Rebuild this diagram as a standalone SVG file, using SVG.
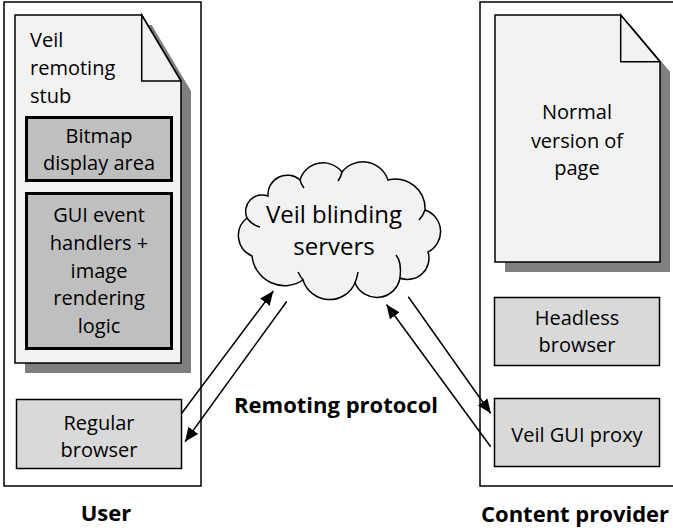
<svg xmlns="http://www.w3.org/2000/svg" width="673" height="531" viewBox="0 0 673 531">
<style>
text{font-family:"Open Sans","Liberation Sans",sans-serif;font-size:20px;fill:#000}
.c{text-anchor:middle}
.b{font-weight:bold;font-size:22px}
.big{font-size:24px}
.frame{fill:none;stroke:#000;stroke-width:1.5}
.doc{fill:#f2f2f2;stroke:#000;stroke-width:1.5;stroke-linejoin:miter}
.shadow{fill:#7f7f7f}
.box{fill:#d9d9d9;stroke:#000;stroke-width:1.5}
.dark{fill:#bfbfbf;stroke:#000;stroke-width:3}
.cloud{fill:#f2f2f2;stroke:#000;stroke-width:1.5}
.curl{fill:none;stroke:#000;stroke-width:1.5}
.arrow{fill:none;stroke:#000;stroke-width:1.5;marker-end:url(#ah)}
</style>
<defs>
<marker id="ah" markerUnits="userSpaceOnUse" markerWidth="16" markerHeight="12" refX="14" refY="6" orient="auto">
<path d="M0,0 L14,6 L0,12 Z" fill="#000"/>
</marker>
</defs>

<g id="user-frame">
<rect class="frame" x="4" y="2" width="197" height="484"/>
<text class="b c" x="106" y="521">User</text>
</g>

<g id="provider-frame">
<rect class="frame" x="480" y="2" width="210" height="484"/>
<text class="b" x="481" y="522">Content provider</text>
</g>

<g id="stub-doc">
<path class="shadow" d="M25,25 H151.7 L191,91 V373 H25 Z"/>
<path class="doc" d="M15,15 H141.7 L181,81 V363 H15 Z"/>
<path class="doc" d="M141.7,15 V81 H181 Z"/>
<text x="30" y="47">Veil</text>
<text x="30" y="75">remoting</text>
<text x="30" y="103">stub</text>
</g>

<g id="bitmap">
<rect class="dark" x="26.5" y="117.5" width="145" height="63"/>
<text class="c" x="99" y="143">Bitmap</text>
<text class="c" x="99" y="170">display area</text>
</g>

<g id="gui-handlers">
<rect class="dark" x="26.5" y="193.5" width="145" height="155"/>
<text class="c" x="99" y="222">GUI event</text>
<text class="c" x="99" y="250">handlers +</text>
<text class="c" x="99" y="278">image</text>
<text class="c" x="99" y="305">rendering</text>
<text class="c" x="99" y="333">logic</text>
</g>

<g id="regular-browser">
<rect class="box" x="16.5" y="399.5" width="165" height="69"/>
<text class="c" x="99" y="430">Regular</text>
<text class="c" x="99" y="457">browser</text>
</g>

<g id="normal-page">
<path class="shadow" d="M505,25 H630.7 L670,71.7 V272 H505 Z"/>
<path class="doc" d="M495,15 H620.7 L660,61.7 V262 H495 Z"/>
<path class="doc" d="M620.7,15 V61.7 H660 Z"/>
<text class="c" x="577" y="119">Normal</text>
<text class="c" x="577" y="148">version of</text>
<text class="c" x="577" y="175">page</text>
</g>

<g id="headless-browser">
<rect class="box" x="494.5" y="297.5" width="165" height="68"/>
<text class="c" x="577" y="325">Headless</text>
<text class="c" x="577" y="352">browser</text>
</g>

<g id="gui-proxy">
<rect class="box" x="494.5" y="398.5" width="165" height="68"/>
<text class="c" x="577" y="442">Veil GUI proxy</text>
</g>

<g id="cloud">
<path class="cloud" d="M252,256 A22.2,22.2 0 0 1 247,218 A16.5,16.5 0 0 1 268,196 A19.3,19.3 0 0 1 300,180 A24.1,24.1 0 0 1 342,172 A26.5,26.5 0 0 1 388,180 A29.6,29.6 0 0 1 425,210 A22.8,22.8 0 0 1 428,252 A21.2,21.2 0 0 1 400,278 A23.6,23.6 0 0 1 355,283 A27.8,27.8 0 0 1 303,280 A32.8,32.8 0 0 1 252,256 Z"/>
<path class="curl" d="M247,218 Q252,225 260,227"/>
<path class="curl" d="M300,180 Q301,184 304,188"/>
<path class="curl" d="M342,172 Q341,177 338,181"/>
<path class="curl" d="M425,210 Q423,216 419,220"/>
<path class="curl" d="M396,255 Q402,262 400,278"/>
<path class="curl" d="M355,283 Q357,278 358,272"/>
<path class="curl" d="M303,280 Q300,276 298,272"/>
<text class="c big" x="334" y="223">Veil blinding</text>
<text class="c big" x="334" y="255">servers</text>
</g>

<g id="connectors">
<line class="arrow" x1="181.7" y1="413.3" x2="273.3" y2="291"/>
<line class="arrow" x1="286.7" y1="301.5" x2="185" y2="441.7"/>
<line class="arrow" x1="408.3" y1="296.7" x2="490.7" y2="413.3"/>
<line class="arrow" x1="490.7" y1="446.7" x2="386.5" y2="304.5"/>
<text class="b c" x="336" y="413">Remoting protocol</text>
</g>
</svg>
